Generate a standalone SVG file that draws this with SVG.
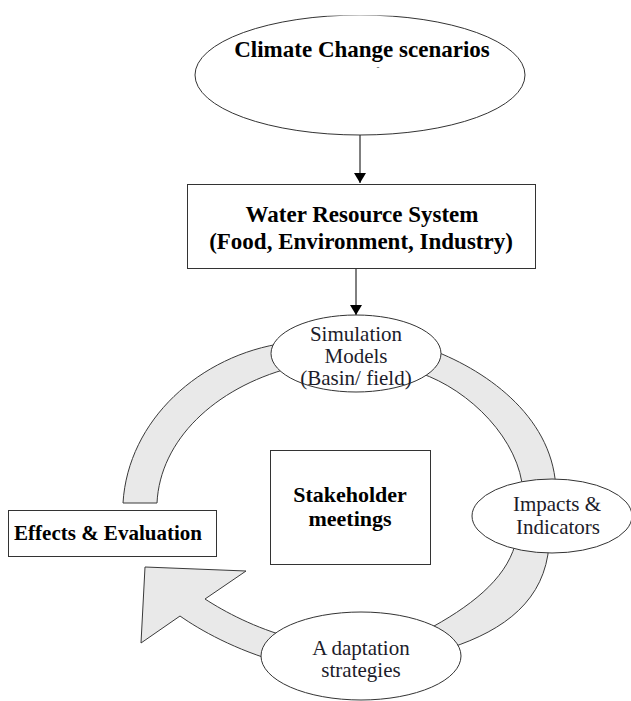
<svg xmlns="http://www.w3.org/2000/svg" width="631" height="701" viewBox="0 0 631 701">
  <style>
    .shape { fill: #ffffff; stroke: #333333; stroke-width: 1; }
    .band { fill: #e9e9e9; stroke: #3a3a3a; stroke-width: 1; stroke-linejoin: miter; }
    .link { fill: none; stroke: #000000; stroke-width: 1; }
    .bold { font-family: "Liberation Serif", "Times New Roman", serif; font-weight: bold; fill: #000000; text-anchor: middle; }
    .plain { font-family: "Liberation Serif", "Times New Roman", serif; fill: #1c1c2a; text-anchor: middle; font-size: 21px; }
  </style>
  <defs>
    <marker id="head" markerUnits="userSpaceOnUse" markerWidth="10" markerHeight="12" viewBox="0 0 10 12" refX="10" refY="6" orient="auto">
      <path d="M0,0 L10,6 L0,12 Z" fill="#000000"/>
    </marker>
    <clipPath id="page-top">
      <rect x="0" y="15.5" width="631" height="686"/>
    </clipPath>
  </defs>

  <rect x="0" y="0" width="631" height="701" fill="#ffffff"/>

  <!-- connectors: straight arrows and the gray cycle bands -->
  <g id="connectors">
    <line class="link" x1="360" y1="135" x2="360" y2="183" marker-end="url(#head)"/>
    <line class="link" x1="356" y1="269" x2="356" y2="315" marker-end="url(#head)"/>

    <!-- Effects -> Simulation -->
    <path class="band" d="M123,503 C128,420 200,355 285,343 L290,368 C215,388 160,440 157,503 Z"/>
    <!-- Simulation -> Impacts -->
    <path class="band" d="M432,350 C490,372 555,420 556,492 L523,492 C520,440 470,390 420,373 Z"/>
    <!-- Impacts -> Adaptation -->
    <path class="band" d="M549,545 C545,600 505,630 450,648 L425,631 C470,607 505,580 515,545 Z"/>
    <!-- Adaptation -> Effects (with head) -->
    <path class="band" d="M292,638 C255,628 225,612 205,599 L246,571 L145,567 L141,643 L180,616 C200,630 235,650 282,663 Z"/>
  </g>

  <g id="node-climate">
    <ellipse class="shape" cx="360" cy="75" rx="165" ry="60" clip-path="url(#page-top)"/>
    <text class="bold" x="362" y="57" font-size="23">Climate Change scenarios</text>
    <text x="378" y="70" font-family="Liberation Sans, Arial, sans-serif" font-size="9" fill="#555555" text-anchor="middle">-</text>
  </g>

  <g id="node-water">
    <rect class="shape" x="187.5" y="184.5" width="348" height="84"/>
    <text class="bold" x="362" y="222" font-size="23">Water Resource System</text>
    <text class="bold" x="361" y="249" font-size="23">(Food, Environment, Industry)</text>
  </g>

  <g id="node-stakeholder">
    <rect class="shape" x="270.5" y="450.5" width="160" height="114"/>
    <text class="bold" x="350" y="502" font-size="22">Stakeholder</text>
    <text class="bold" x="350" y="526" font-size="22">meetings</text>
  </g>

  <g id="node-effects">
    <rect class="shape" x="8.5" y="510.5" width="208" height="46"/>
    <text class="bold" x="108" y="540" font-size="21">Effects &amp; Evaluation</text>
  </g>

  <g id="node-simulation">
    <ellipse class="shape" cx="356" cy="353.5" rx="85" ry="38.5"/>
    <text class="plain" x="356" y="341">Simulation</text>
    <text class="plain" x="356" y="363">Models</text>
    <text class="plain" x="356" y="385">(Basin/ field)</text>
  </g>

  <g id="node-impacts">
    <ellipse class="shape" cx="552" cy="516" rx="80" ry="37"/>
    <text class="plain" x="557" y="511">Impacts &amp;</text>
    <text class="plain" x="558" y="534">Indicators</text>
  </g>

  <g id="node-adaptation">
    <ellipse class="shape" cx="361" cy="656" rx="100" ry="44"/>
    <text class="plain" x="361" y="655">A daptation</text>
    <text class="plain" x="361" y="677">strategies</text>
  </g>
</svg>
